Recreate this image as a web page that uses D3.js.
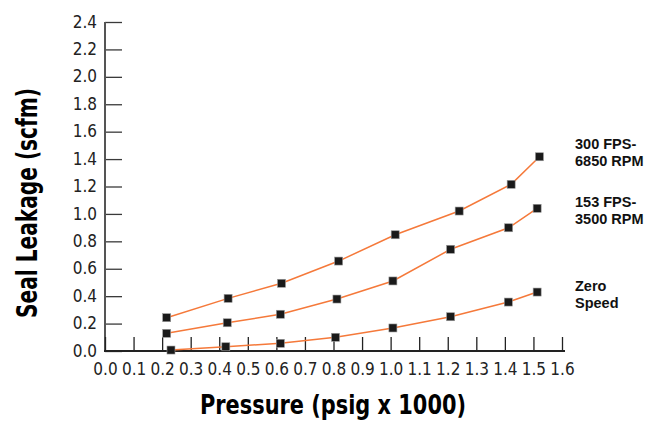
<!DOCTYPE html>
<html>
<head>
<meta charset="utf-8">
<script src="https://cdn.jsdelivr.net/npm/d3@7"></script>
<style>
  body { margin: 0; background: #fff; }
  svg { display: block; }
</style>
</head>
<body>
<svg id="chart" width="654" height="421"></svg>
<script>
// values (pressure in psig x 1000, leakage in scfm)
var xTicks = [0.0, 0.1, 0.2, 0.3, 0.4, 0.5, 0.6, 0.7, 0.8, 0.9, 1.0, 1.1, 1.2, 1.3, 1.4, 1.5, 1.6];
var yTicks = [0.0, 0.2, 0.4, 0.6, 0.8, 1.0, 1.2, 1.4, 1.6, 1.8, 2.0, 2.2, 2.4];

var fast_x = [0.216, 0.431, 0.618, 0.818, 1.016, 1.240, 1.422, 1.521];
var fast_y = [0.243, 0.384, 0.494, 0.656, 0.848, 1.021, 1.216, 1.417];

var mid_x = [0.216, 0.428, 0.614, 0.812, 1.008, 1.210, 1.413, 1.513];
var mid_y = [0.129, 0.206, 0.268, 0.379, 0.511, 0.742, 0.899, 1.041];

var zero_x = [0.231, 0.423, 0.614, 0.807, 1.008, 1.210, 1.412, 1.513];
var zero_y = [0.007, 0.031, 0.056, 0.100, 0.168, 0.250, 0.357, 0.430];

var seriesLabels = [["300 FPS-", "6850 RPM"], ["153 FPS-", "3500 RPM"], ["Zero", "Speed"]];
var labelY = [1.47, 1.05, 0.44];  // where each label sits on the y scale

var svg = d3.select("#chart");

var x = d3.scaleLinear().domain([0, 1.6]).range([105, 562]);
var y = d3.scaleLinear().domain([0, 2.4]).range([351, 22]);

var tickFont = "'Liberation Sans Narrow', 'DejaVu Sans Condensed', sans-serif";

// y axis: ticks point inward
var yAxis = svg.append("g").attr("transform", "translate(105,0)")
  .call(d3.axisRight(y).tickValues(yTicks).tickSize(17).tickFormat(d3.format(".1f")));
yAxis.select(".domain").remove();
yAxis.selectAll(".tick line").attr("stroke", "#3a3a3a").attr("stroke-width", 1.3);
yAxis.selectAll(".tick text")
  .attr("x", -8).attr("dy", "0.3em")
  .attr("text-anchor", "end")
  .style("font-family", tickFont).style("font-size", "17px").attr("fill", "#222");
svg.append("line")
  .attr("x1", 105).attr("x2", 105).attr("y1", y(2.4)).attr("y2", y(0) + 1)
  .attr("stroke", "#555").attr("stroke-width", 2);

// x axis: ticks point upward
var xAxis = svg.append("g").attr("transform", "translate(0,351)")
  .call(d3.axisTop(x).tickValues(xTicks).tickSize(14).tickFormat(d3.format(".1f")));
xAxis.select(".domain").remove();
xAxis.selectAll(".tick line").attr("stroke", "#222").attr("stroke-width", 1.3);
xAxis.selectAll(".tick text")
  .attr("y", 24).attr("dy", 0)
  .attr("text-anchor", "middle")
  .style("font-family", tickFont).style("font-size", "17px").attr("fill", "#222");
svg.append("line")
  .attr("x1", 104).attr("x2", x(1.6) + 3).attr("y1", 351).attr("y2", 351)
  .attr("stroke", "#222").attr("stroke-width", 2);

// series
var series = [
  {xs: fast_x, ys: fast_y},
  {xs: mid_x, ys: mid_y},
  {xs: zero_x, ys: zero_y}
];

var line = d3.line()
  .x(function(d) { return x(d[0]); })
  .y(function(d) { return y(d[1]); });

series.forEach(function(s, i) {
  var pts = s.xs.map(function(v, j) { return [v, s.ys[j]]; });

  svg.append("path")
    .datum(pts)
    .attr("fill", "none")
    .attr("stroke", "#f5793a")
    .attr("stroke-width", 1.5)
    .attr("d", line);

  svg.selectAll(".pt" + i)
    .data(pts)
    .enter().append("rect")
    .attr("class", "pt" + i)
    .attr("x", function(d) { return x(d[0]) - 4; })
    .attr("y", function(d) { return y(d[1]) - 4; })
    .attr("width", 8).attr("height", 8)
    .attr("fill", "#1a1a1a")
    .attr("stroke", "#999").attr("stroke-width", 0.6);

  var lbl = svg.append("text")
    .attr("x", 575)
    .attr("y", y(labelY[i]))
    .style("font-family", "'Liberation Sans', Arial, sans-serif")
    .style("font-weight", "bold").style("font-size", "14.5px")
    .attr("fill", "#111");
  seriesLabels[i].forEach(function(t, k) {
    lbl.append("tspan").attr("x", 575).attr("dy", k === 0 ? 0 : 17).text(t);
  });
});

// axis titles
var titleFont = "'Liberation Sans Narrow', 'DejaVu Sans Condensed', sans-serif";
svg.append("text")
  .attr("x", 333).attr("y", 414)
  .attr("text-anchor", "middle")
  .attr("textLength", 266).attr("lengthAdjust", "spacingAndGlyphs")
  .style("font-family", titleFont).style("font-weight", "bold").style("font-size", "26px")
  .attr("fill", "#000")
  .text("Pressure (psig x 1000)");

svg.append("text")
  .attr("transform", "translate(37,203) rotate(-90)")
  .attr("text-anchor", "middle")
  .attr("textLength", 230).attr("lengthAdjust", "spacingAndGlyphs")
  .style("font-family", titleFont).style("font-weight", "bold").style("font-size", "29px")
  .attr("fill", "#000")
  .text("Seal Leakage (scfm)");
</script>
</body>
</html>
